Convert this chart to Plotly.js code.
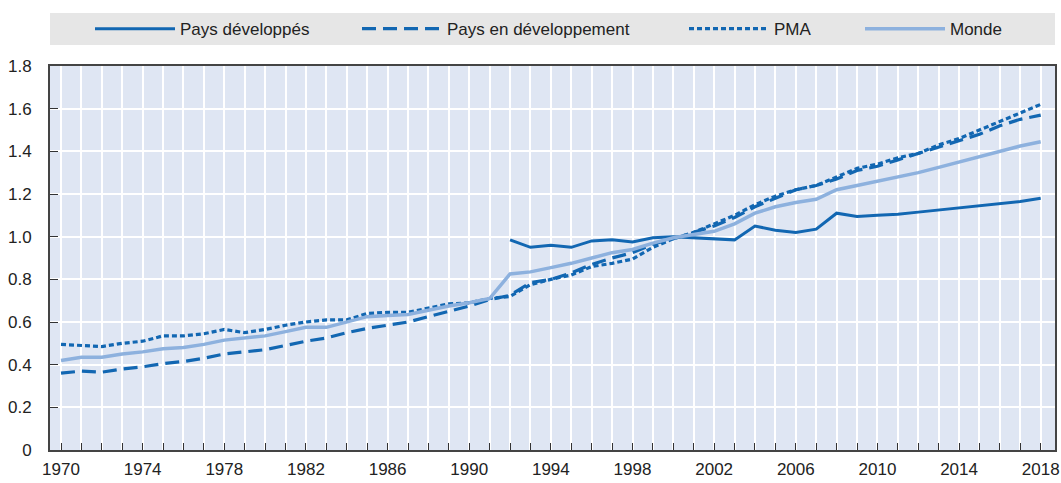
<!DOCTYPE html>
<html>
<head>
<meta charset="utf-8">
<script src="https://cdn.plot.ly/plotly-3.0.1.min.js"></script>
<style>html,body{margin:0;padding:0;background:#fff;}#chart{width:1061px;height:483px;}</style>
</head>
<body>
<div id="chart"></div>
<script>
const years = [];
for (let y = 1970; y <= 2018; y++) years.push(y);

const developpesYears = [1992,1993,1994,1995,1996,1997,1998,1999,2000,2001,2002,2003,2004,2005,2006,2007,2008,2009,2010,2011,2012,2013,2014,2015,2016,2017,2018];
const developpes = [0.985,0.95,0.96,0.95,0.98,0.985,0.975,0.995,1.0,0.995,0.99,0.985,1.05,1.03,1.02,1.035,1.11,1.095,1.10,1.105,1.115,1.125,1.135,1.145,1.155,1.165,1.18];

const enDeveloppement = [0.36,0.37,0.365,0.38,0.39,0.405,0.415,0.43,0.45,0.46,0.47,0.49,0.51,0.525,0.55,0.57,0.585,0.60,0.625,0.65,0.675,0.705,0.725,0.785,0.80,0.83,0.87,0.90,0.925,0.965,0.99,1.02,1.05,1.09,1.14,1.18,1.22,1.24,1.27,1.31,1.33,1.36,1.39,1.42,1.45,1.48,1.52,1.55,1.57];

const pma = [0.495,0.49,0.485,0.50,0.51,0.535,0.535,0.545,0.565,0.55,0.565,0.585,0.60,0.61,0.61,0.64,0.645,0.645,0.665,0.685,0.69,0.71,0.72,0.775,0.80,0.82,0.86,0.875,0.895,0.95,0.99,1.02,1.06,1.10,1.15,1.19,1.22,1.24,1.28,1.32,1.34,1.37,1.39,1.43,1.46,1.50,1.54,1.58,1.62];

const monde = [0.42,0.435,0.435,0.45,0.46,0.475,0.48,0.495,0.515,0.525,0.535,0.555,0.575,0.575,0.60,0.625,0.63,0.635,0.655,0.675,0.69,0.71,0.825,0.835,0.855,0.875,0.90,0.925,0.94,0.97,0.995,1.01,1.025,1.06,1.11,1.14,1.16,1.175,1.22,1.24,1.26,1.28,1.30,1.325,1.35,1.375,1.40,1.425,1.445];

const names = ["Pays développés","Pays en développement","PMA","Monde"];
const yTickVals = [0,0.2,0.4,0.6,0.8,1.0,1.2,1.4,1.6,1.8];
const yTickText = ["0","0.2","0.4","0.6","0.8","1.0","1.2","1.4","1.6","1.8"];

const dark = "#1267b2";
const light = "#8db1de";
const FONT = "'Liberation Sans',Arial,sans-serif";

const traces = [
  {x: developpesYears, y: developpes, name: names[0], legend: "legend", mode: "lines", line: {color: dark, width: 3}},
  {x: years, y: enDeveloppement, name: names[1], legend: "legend2", mode: "lines", line: {color: dark, width: 3.2, dash: "14px,7px"}},
  {x: years, y: pma, name: names[2], legend: "legend3", mode: "lines", line: {color: dark, width: 3.2, dash: "5px,3px"}},
  {x: years, y: monde, name: names[3], legend: "legend4", mode: "lines", line: {color: light, width: 3.5}}
];

function leg(px) {
  return {orientation: "h", x: (px - 50) / 1005, xanchor: "left", y: 1.096, yanchor: "middle",
          bgcolor: "rgba(0,0,0,0)", itemwidth: 80, font: {family: FONT, size: 17, color: "#222"}};
}

const layout = {
  width: 1061, height: 483,
  margin: {l: 50, r: 6, t: 66, b: 33},
  paper_bgcolor: "#ffffff",
  plot_bgcolor: "#dfe6f3",
  font: {family: FONT, size: 17, color: "#222"},
  showlegend: true,
  legend: leg(98 - 8),
  legend2: leg(365 - 8),
  legend3: leg(692 - 8),
  legend4: leg(868 - 8),
  shapes: [{type: "rect", xref: "paper", yref: "paper", x0: 0, x1: 1, y0: 1.0547, y1: 1.138,
            fillcolor: "#e6e6e6", line: {width: 0}, layer: "below"}],
  xaxis: {
    range: [1969.46, 2018.7], tick0: 1970, dtick: 4, ticks: "inside", ticklen: 7, tickcolor: "#333",
    showgrid: true, gridcolor: "#ffffff", gridwidth: 2,
    minor: {dtick: 1, tick0: 1970, ticks: "inside", ticklen: 7, tickcolor: "#333", showgrid: true, gridcolor: "#ffffff", gridwidth: 2},
    showline: true, linecolor: "#444", linewidth: 2, mirror: true, zeroline: false,
    ticklabelstandoff: 3,
    tickfont: {family: FONT, size: 17, color: "#222"}
  },
  yaxis: {
    range: [0, 1.8], tickvals: yTickVals, ticktext: yTickText,
    ticks: "inside", ticklen: 8, tickcolor: "#333",
    showgrid: true, gridcolor: "#ffffff", gridwidth: 2,
    showline: true, linecolor: "#444", linewidth: 2, mirror: true, zeroline: false,
    ticklabelstandoff: 13,
    tickfont: {family: FONT, size: 17, color: "#222"}
  }
};

Plotly.newPlot("chart", traces, layout, {displayModeBar: false, staticPlot: true});
</script>
</body>
</html>
